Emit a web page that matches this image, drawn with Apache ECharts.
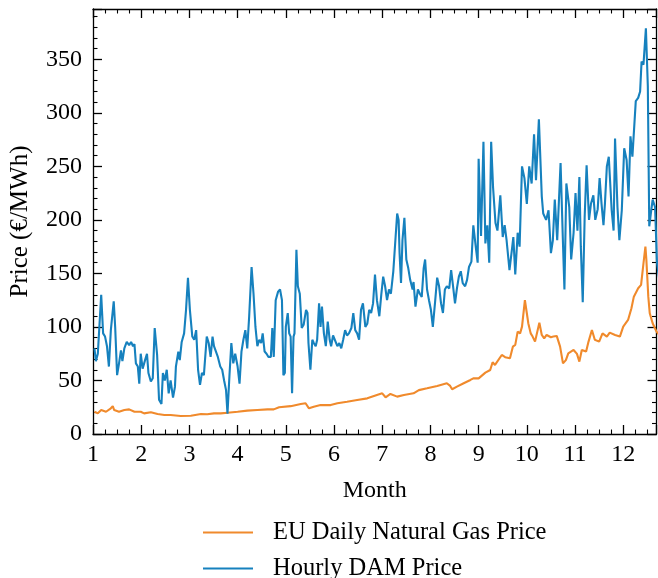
<!DOCTYPE html>
<html><head><meta charset="utf-8">
<script src="https://cdn.jsdelivr.net/npm/echarts@6/dist/echarts.min.js"></script>
<style>html,body{margin:0;padding:0;background:#fff}#c{width:658px;height:578px}</style>
</head><body><div id="c"></div>
<script>
const seriesNames = ['EU Daily Natural Gas Price', 'Hourly DAM Price'];
const monthTicks = [1,2,3,4,5,6,7,8,9,10,11,12];

const gasMonth = [1.03,1.10,1.17,1.27,1.37,1.41,1.44,1.54,1.65,1.75,1.79,1.86,1.99,2.06,2.20,2.34,2.48,2.61,2.82,3.03,3.24,3.37,3.51,3.65,3.79,4.00,4.20,4.41,4.62,4.75,4.86,4.89,5.10,5.31,5.41,5.48,5.58,5.72,5.93,6.07,6.27,6.48,6.69,6.89,7.00,7.07,7.17,7.31,7.45,7.65,7.76,7.93,8.14,8.34,8.41,8.45,8.55,8.69,8.83,8.89,9.00,9.14,9.24,9.29,9.34,9.48,9.55,9.65,9.71,9.76,9.81,9.86,9.90,9.96,10.00,10.03,10.08,10.12,10.17,10.26,10.31,10.36,10.41,10.45,10.50,10.55,10.62,10.69,10.75,10.81,10.86,10.97,11.04,11.09,11.14,11.23,11.28,11.35,11.41,11.50,11.57,11.66,11.72,11.83,11.93,12.00,12.10,12.17,12.22,12.31,12.37,12.42,12.46,12.48,12.52,12.55,12.61,12.69,12.76];
const gasPrice = [20.8,19.3,22.4,20.8,24,26,22.4,20.8,22.4,23,21.8,20.8,20.8,19.3,20.3,18.7,17.8,17.8,16.8,17.1,18.7,18.4,19.3,19.3,19.9,20.8,21.8,22.4,23,23,25,24,26,28,28.7,24,25.5,27,27,28.7,30.2,31.8,33.3,36.4,38,34.3,37.4,34.9,36.4,38,41,42.7,44.9,47.4,44.9,41.8,44.2,47.4,50.5,52,52,57.3,59.8,67,64.5,73.8,71.7,70.7,81.6,83.2,95.6,94,100.3,125,112.8,103.5,94,91,86.3,104,92.5,89.4,92.5,94,90.4,91,91.6,81.6,66,69,75.4,78.5,74.8,67.6,78.5,77,86.3,97.2,88,86.3,94,91,94.7,92.5,91,100.3,106.5,117.5,128.3,136.2,139.3,159.5,175,162.6,128.3,112.8,103.5,95.6,92];

const damMonth = [1.03,1.06,1.10,1.17,1.21,1.25,1.29,1.33,1.37,1.43,1.46,1.50,1.54,1.58,1.61,1.65,1.70,1.75,1.79,1.83,1.86,1.89,1.93,1.96,1.99,2.03,2.08,2.12,2.15,2.20,2.24,2.28,2.33,2.37,2.42,2.45,2.49,2.53,2.57,2.61,2.66,2.70,2.72,2.77,2.80,2.84,2.89,2.93,2.97,3.01,3.06,3.10,3.14,3.18,3.22,3.26,3.30,3.36,3.40,3.44,3.48,3.51,3.55,3.59,3.64,3.68,3.72,3.76,3.79,3.83,3.87,3.91,3.95,4.00,4.04,4.08,4.12,4.16,4.20,4.24,4.29,4.33,4.37,4.41,4.45,4.49,4.52,4.56,4.60,4.64,4.69,4.72,4.75,4.79,4.84,4.88,4.92,4.95,4.98,5.00,5.04,5.07,5.10,5.13,5.16,5.18,5.22,5.25,5.29,5.33,5.37,5.42,5.45,5.47,5.51,5.55,5.58,5.62,5.65,5.69,5.72,5.75,5.79,5.83,5.87,5.91,5.94,5.98,6.02,6.07,6.11,6.15,6.19,6.23,6.27,6.31,6.36,6.40,6.44,6.48,6.52,6.56,6.60,6.65,6.69,6.73,6.77,6.81,6.85,6.89,6.94,6.98,7.02,7.06,7.10,7.14,7.18,7.23,7.27,7.31,7.34,7.36,7.39,7.42,7.46,7.50,7.54,7.58,7.63,7.65,7.69,7.74,7.78,7.82,7.86,7.89,7.93,7.97,8.01,8.05,8.10,8.14,8.18,8.22,8.26,8.30,8.34,8.39,8.43,8.47,8.51,8.55,8.59,8.63,8.67,8.72,8.76,8.80,8.85,8.89,8.94,8.98,9.00,9.05,9.10,9.14,9.18,9.22,9.26,9.30,9.35,9.39,9.45,9.50,9.54,9.58,9.64,9.69,9.72,9.76,9.81,9.85,9.90,9.95,10.00,10.05,10.10,10.15,10.19,10.25,10.31,10.34,10.40,10.45,10.50,10.54,10.58,10.63,10.70,10.75,10.78,10.82,10.88,10.92,10.97,11.01,11.05,11.09,11.12,11.16,11.20,11.24,11.29,11.33,11.38,11.42,11.47,11.51,11.55,11.59,11.62,11.66,11.70,11.76,11.80,11.83,11.88,11.92,11.97,12.02,12.07,12.11,12.15,12.19,12.26,12.31,12.35,12.38,12.42,12.47,12.51,12.54,12.57,12.61,12.66,12.70,12.76];
const damPrice = [80,68,75,130,94,91,82,63,97,124,100,55,66,78,68,80,86,83,86,82,84,66,63,47,75,61,69,75,57,49,52,99,74,32,28,57,50,60,38,50,34,44,63,77,69,86,94,116,146,116,91,88,97,60,46,57,55,91,85,72,91,82,83,72,63,60,50,41,19,54,85,66,75,63,47,77,88,97,80,110,156,131,100,82,88,85,94,77,75,72,72,99,72,125,133,135,125,55,57,100,113,94,91,38,91,94,172,138,131,99,102,116,113,85,60,88,85,82,88,122,100,119,94,82,105,88,82,92,91,82,85,80,88,97,92,94,99,113,97,94,88,116,122,100,103,116,113,122,149,125,110,130,147,138,125,135,131,152,153,206,200,169,141,181,202,163,155,144,135,142,119,135,131,128,155,163,135,125,116,100,125,146,138,122,113,135,138,136,153,138,122,136,147,152,141,138,144,156,161,195,175,160,257,185,273,178,195,160,273,230,197,190,223,184,195,181,153,172,184,149,188,175,250,239,215,250,234,280,237,294,222,206,200,209,169,181,219,181,253,178,135,234,212,163,188,225,190,240,175,123,203,251,200,215,223,200,210,239,215,195,215,250,259,209,190,276,212,181,209,267,256,222,278,259,311,314,320,348,345,379,325,194,205,219,212,160,140];

const zip = (xs, ys) => xs.map((x, i) => [x, ys[i]]);
const FONT = 'Liberation Serif';
const X_MIN = 1, X_MAX = 12.69, Y_MIN = 0, Y_MAX = 397;

const tickCommon = {
  axisLine: {show: true, onZero: false, lineStyle: {color: '#000', width: 1.3}},
  axisTick: {show: true, inside: true, length: 9, lineStyle: {color: '#000', width: 1.3}},
  splitLine: {show: false}
};
const chart = echarts.init(document.getElementById('c'), null, {renderer: 'canvas'});
chart.setOption({
  animation: false,
  backgroundColor: '#fff',
  textStyle: {fontFamily: FONT},
  grid: {left: 92, right: 1.5, top: 9, bottom: 144},
  xAxis: [
    Object.assign({type: 'value', min: X_MIN, max: X_MAX, interval: 1, position: 'bottom',
      name: 'Month', nameLocation: 'middle', nameGap: 45,
      nameTextStyle: {fontFamily: FONT, fontSize: 24, color: '#000'},
      axisLabel: {show: true, margin: 9, fontFamily: FONT, fontSize: 24, color: '#000', showMaxLabel: false,
        formatter: v => monthTicks.includes(v) ? String(v) : ''},
      minorTick: {show: true, splitNumber: 4, length: 4.5, lineStyle: {color: '#000', width: 1.1}}
    }, tickCommon),
    Object.assign({type: 'value', min: X_MIN, max: X_MAX, interval: 1, position: 'top',
      axisLabel: {show: false},
      minorTick: {show: true, splitNumber: 4, length: 4.5, lineStyle: {color: '#000', width: 1.1}}
    }, tickCommon)
  ],
  yAxis: [
    Object.assign({type: 'value', min: Y_MIN, max: Y_MAX, interval: 50, position: 'left',
      name: 'Price (€/MWh)', nameLocation: 'middle', nameGap: 60, nameRotate: 90,
      nameTextStyle: {fontFamily: FONT, fontSize: 25, color: '#000'},
      axisLabel: {show: true, margin: 11, fontFamily: FONT, fontSize: 24, color: '#000', showMaxLabel: false},
      minorTick: {show: true, splitNumber: 5, length: 4.5, lineStyle: {color: '#000', width: 1.1}}
    }, tickCommon),
    Object.assign({type: 'value', min: Y_MIN, max: Y_MAX, interval: 50, position: 'right',
      axisLabel: {show: false},
      minorTick: {show: true, splitNumber: 5, length: 4.5, lineStyle: {color: '#000', width: 1.1}}
    }, tickCommon)
  ],
  legend: {
    orient: 'vertical', left: 203, top: 520, height: 80, padding: 0, itemWidth: 50, itemHeight: 2, itemGap: 11,
    icon: 'rect',
    textStyle: {fontFamily: FONT, fontSize: 24.5, color: '#000', padding: [0, 0, 0, 15], lineHeight: 24},
    data: seriesNames
  },
  series: [
    {name: seriesNames[0], type: 'line', data: zip(gasMonth, gasPrice), showSymbol: false, symbol: 'none',
      clip: true, lineStyle: {color: '#F08A2C', width: 2.1}, itemStyle: {color: '#F08A2C'}},
    {name: seriesNames[1], type: 'line', data: zip(damMonth, damPrice), showSymbol: false, symbol: 'none',
      clip: true, lineStyle: {color: '#1681BE', width: 2.1}, itemStyle: {color: '#1681BE'}}
  ]
});
</script></body></html>
